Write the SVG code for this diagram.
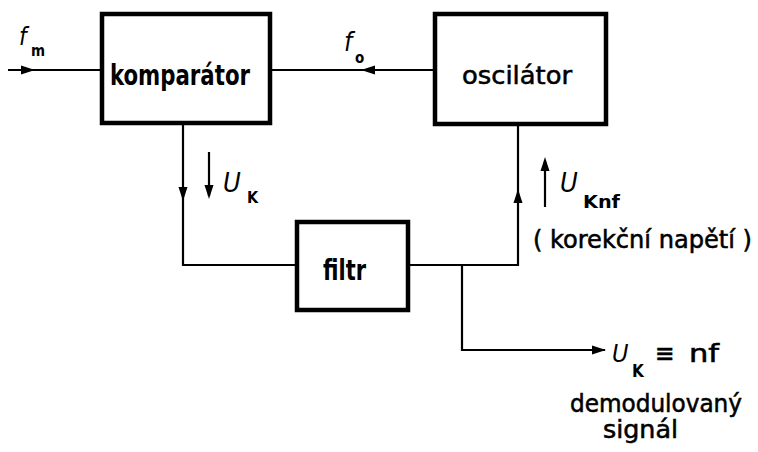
<svg xmlns="http://www.w3.org/2000/svg" xmlns:xlink="http://www.w3.org/1999/xlink" width="758" height="452" viewBox="0 0 758 452">
<style>
.box{fill:#fff;stroke:#000;stroke-width:4.5}
.ln{fill:none;stroke:#000;stroke-width:2.2}
.t{font-family:"DejaVu Sans Condensed","DejaVu Sans",sans-serif;font-weight:bold;fill:#000}
.n{font-family:"DejaVu Sans Condensed","DejaVu Sans",sans-serif;fill:#000;stroke:#000;stroke-width:0.5}
.i{font-family:"DejaVu Sans Condensed","DejaVu Sans",sans-serif;font-style:italic;fill:#000}
</style>
<defs>
<path id="ah" d="M0,0 L-14,-4.5 L-14,4.5 Z" fill="#000"/>
</defs>
<rect width="758" height="452" fill="#fff"/>
<g id="connectors">
<path class="ln" d="M8,70 H102"/>
<path class="ln" d="M270,70 H435"/>
<path class="ln" d="M183,123 V265 H297"/>
<path class="ln" d="M518,124 V265 H408"/>
<path class="ln" d="M462,265 V350 H605"/>
<use xlink:href="#ah" transform="translate(35,70)"/>
<use xlink:href="#ah" transform="translate(361,70) rotate(180)"/>
<use xlink:href="#ah" transform="translate(183,201) rotate(90)"/>
<use xlink:href="#ah" transform="translate(518,189) rotate(-90)"/>
<use xlink:href="#ah" transform="translate(606,350)"/>
</g>
<g id="labels">
<path class="ln" d="M209,152 V196" stroke-width="2.8"/>
<use xlink:href="#ah" transform="translate(209,199) rotate(90)"/>
<path class="ln" d="M545,207 V162" stroke-width="2.8"/>
<use xlink:href="#ah" transform="translate(545,157) rotate(-90)"/>
<text class="i" x="19" y="45" font-size="24">f</text>
<text class="t" x="31" y="56" font-size="15">m</text>
<text class="i" x="344" y="51" font-size="26">f</text>
<text class="t" x="355" y="63" font-size="15">o</text>
<text class="i" x="223" y="192" font-size="27">U</text>
<text class="t" x="247" y="203" font-size="16">K</text>
<text class="i" x="560" y="192" font-size="27">U</text>
<text class="t" x="583" y="208" font-size="17" textLength="37" lengthAdjust="spacingAndGlyphs">Knf</text>
<text class="n" x="533" y="248" font-size="24" textLength="219" lengthAdjust="spacingAndGlyphs">( korekční napětí )</text>
<text class="i" x="612" y="362" font-size="25">U</text>
<text class="t" x="632" y="377" font-size="17">K</text>
<text class="n" x="655" y="362" font-size="26">≡</text>
<text class="n" x="689" y="362" font-size="24" textLength="30" lengthAdjust="spacingAndGlyphs">nf</text>
<text class="n" x="570" y="412" font-size="24" textLength="172" lengthAdjust="spacingAndGlyphs">demodulovaný</text>
<text class="n" x="603" y="438" font-size="24" textLength="75" lengthAdjust="spacingAndGlyphs">signál</text>
</g>
<g id="komparator">
<rect class="box" x="102" y="14" width="168" height="109"/>
<text class="t" x="110" y="85" font-size="28" textLength="140" lengthAdjust="spacingAndGlyphs">komparátor</text>
</g>
<g id="oscilator">
<rect class="box" x="435" y="14" width="171" height="110"/>
<text class="n" x="462" y="84" font-size="25" textLength="110" lengthAdjust="spacingAndGlyphs">oscilátor</text>
</g>
<g id="filtr">
<rect class="box" x="297" y="222" width="111" height="88"/>
<text class="t" x="323" y="280" font-size="28" textLength="43" lengthAdjust="spacingAndGlyphs">filtr</text>
</g>
</svg>
